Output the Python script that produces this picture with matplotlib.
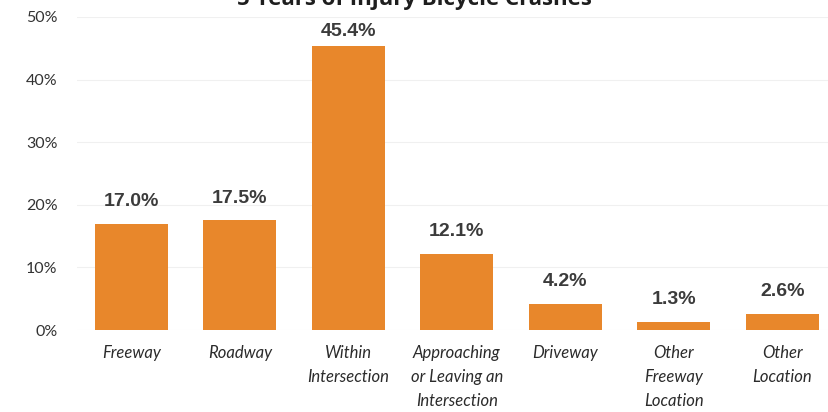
import matplotlib.pyplot as plt
from matplotlib.ticker import PercentFormatter

# Injury bicycle crashes by location (share of total, %)
categories = ["Freeway", "Roadway", "Within\nIntersection",
              "Approaching\nor Leaving an\nIntersection", "Driveway",
              "Other\nFreeway\nLocation", "Other\nLocation"]
shares = [17.0, 17.5, 45.4, 12.1, 4.2, 1.3, 2.6]
y_ticks = [0, 10, 20, 30, 40, 50]

fig = plt.figure(figsize=(8.29, 4.12), dpi=100)
ax = fig.add_axes([77 / 829, 1 - 330 / 412, (829 - 77) / 829, 313 / 412])

x = range(len(categories))
ax.bar(x, shares, width=0.67, color="#E8872B", zorder=2)

# value labels above each bar, kept inside the plot area
for xi, v in zip(x, shares):
    ax.text(xi, min(v + 2.2, 46.3), f"{v:.1f}%", ha="center", va="bottom",
            fontsize=14, fontweight="bold", color="#3b3b3b",
            family="Liberation Sans")

ax.set_ylim(0, 50)
ax.set_xlim(-0.5, 6.43)
ax.set_yticks(y_ticks)
ax.yaxis.set_major_formatter(PercentFormatter(decimals=0))
ax.yaxis.grid(True, color="#f0f0f0", linewidth=0.8, zorder=0)
ax.set_xticks(list(x))
ax.set_xticklabels(categories, fontsize=12, style="italic",
                   color="#2b2b2b", family="Lato", linespacing=1.6,
                   va="top")
ax.tick_params(axis="x", length=0, pad=11)
ax.tick_params(axis="y", length=0, labelsize=11.5, labelcolor="#333333",
               pad=14)
for lbl in ax.get_yticklabels():
    lbl.set_family("Lato")
for s in ax.spines.values():
    s.set_visible(False)

fig.text(0.5, 1 - 5 / 412, "5 Years of Injury Bicycle Crashes",
         ha="center", va="baseline", fontsize=16, fontweight="bold",
         color="#1e1e1e", family="Open Sans")

fig.savefig("out.png", dpi=100)
